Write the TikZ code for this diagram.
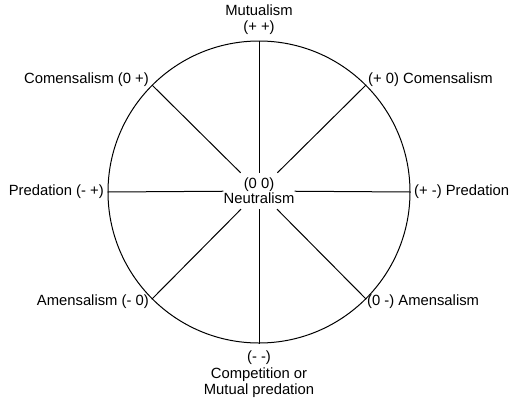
\documentclass[tikz,border=0pt]{standalone}
\usepackage{fontspec}
\setmainfont{Liberation Sans}
\begin{document}
\begin{tikzpicture}[x=1pt,y=-1pt,
  lbl/.style={inner sep=0pt, font=\fontsize{14.8}{16.5}\selectfont, align=center},
  spoke/.style={draw=black, line width=1pt}]
\path[use as bounding box] (0,0) rectangle (511,397);
\node[lbl, minimum width=70pt, minimum height=36pt, font=\fontsize{14.8}{15}\selectfont] (c) at (259,191) {(0 0)\\Neutralism};
\node[circle, draw, line width=1pt, minimum size=302pt, inner sep=0pt] (ring) at (259,192) {};
\foreach \a in {0,45,...,315} \draw[spoke] (ring.\a) -- (c);
\node[lbl, anchor=south] (mut) at (259,35) {Mutualism\\(+ +)};
\node[lbl, anchor=north] (comp) at (259,351) {(- -)\\Competition or\\Mutual predation};
\node[lbl, anchor=east] (comL) at (149,80) {Comensalism (0 +)};
\node[lbl, anchor=west] (comR) at (368,80) {(+ 0) Comensalism};
\node[lbl, anchor=east] (preL) at (104,192) {Predation (- +)};
\node[lbl, anchor=west] (preR) at (414,192) {(+ -) Predation};
\node[lbl, anchor=east] (amL) at (149,302) {Amensalism (- 0)};
\node[lbl, anchor=west] (amR) at (367,302) {(0 -) Amensalism};
\end{tikzpicture}
\end{document}
